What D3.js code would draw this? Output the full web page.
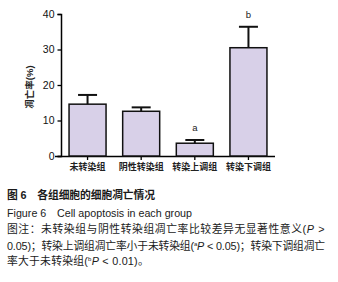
<!DOCTYPE html>
<html lang="zh">
<head>
    <meta charset="utf-8">
    <title>Figure 6</title>
    <script src="https://d3js.org/d3.v7.min.js"></script>
    <style type="text/css">
        body { margin: 0; background: #fff; }
        svg text { font-family: "Liberation Sans", Arial, "Noto Sans CJK SC", sans-serif; }
    </style>
</head>
<body>
<script type="text/javascript">

    // data
    var groups = ["未转染组", "阴性转染组", "转染上调组", "转染下调组"];
    var means = [14.6, 12.6, 3.6, 30.5];
    var errors = [2.6, 1.1, 0.9, 5.9];
    var marks = ["", "", "a", "b"];
    var yTicks = [0, 10, 20, 30, 40];

    var captionLines = [
        "图 6　各组细胞的细胞凋亡情况",
        "Figure 6　Cell apoptosis in each group",
        "图注：未转染组与阴性转染组凋亡率比较差异无显著性意义(<i>P</i> &gt;",
        "0.05)；转染上调组凋亡率小于未转染组(<sup>a</sup><i>P</i> &lt; 0.05)；转染下调组凋亡",
        "率大于未转染组(<sup>b</sup><i>P</i> &lt; 0.01)。"
    ];

    var w = 338, h = 282;

    var svg = d3.select("body")
        .append("svg")
        .attr("width", w)
        .attr("height", h);

    var x = d3.scaleBand()
        .domain(groups)
        .range([61, 275])
        .paddingInner(0.31)
        .paddingOuter(0.15);

    var y = d3.scaleLinear()
        .domain([0, 40])
        .range([156, 14]);

    // y axis
    var yAxis = svg.append("g")
        .attr("transform", "translate(61,0)")
        .call(d3.axisLeft(y).tickValues(yTicks).tickSize(3.5).tickPadding(3));
    yAxis.select(".domain").attr("stroke-width", 1.5);
    yAxis.selectAll(".tick line").attr("stroke-width", 1.3);
    yAxis.selectAll("text").attr("font-size", 10.5).attr("fill", "#111");

    // x axis
    var xAxis = svg.append("g")
        .attr("transform", "translate(0,156)")
        .call(d3.axisBottom(x).tickSize(4).tickPadding(4).tickSizeOuter(0));
    xAxis.select(".domain").attr("d", "M55,0.5H275").attr("stroke-width", 1.5);
    xAxis.selectAll(".tick line").attr("stroke-width", 1.3);
    xAxis.selectAll("text")
        .attr("font-size", 9)
        .attr("font-weight", "bold")
        .attr("fill", "#222")
        .attr("font-family", "'Noto Sans CJK SC', sans-serif");

    // y label
    svg.append("text")
        .attr("transform", "translate(33,87) rotate(-90)")
        .attr("text-anchor", "middle")
        .attr("font-size", 9.5)
        .attr("font-weight", "bold")
        .attr("fill", "#222")
        .attr("font-family", "'Noto Sans CJK SC', sans-serif")
        .text("凋亡率(%)");

    // error bars
    var capHalf = 9.5;
    var err = svg.selectAll("g.err")
        .data(groups)
        .enter()
        .append("g")
        .attr("class", "err");
    err.append("line")
        .attr("x1", function(d) { return x(d) + x.bandwidth() / 2; })
        .attr("x2", function(d) { return x(d) + x.bandwidth() / 2; })
        .attr("y1", function(d, i) { return y(means[i]); })
        .attr("y2", function(d, i) { return y(means[i] + errors[i]); })
        .attr("stroke", "#111")
        .attr("stroke-width", 2);
    err.append("line")
        .attr("x1", function(d) { return x(d) + x.bandwidth() / 2 - capHalf; })
        .attr("x2", function(d) { return x(d) + x.bandwidth() / 2 + capHalf; })
        .attr("y1", function(d, i) { return y(means[i] + errors[i]); })
        .attr("y2", function(d, i) { return y(means[i] + errors[i]); })
        .attr("stroke", "#111")
        .attr("stroke-width", 2);

    // bars
    svg.selectAll("rect.bar")
        .data(groups)
        .enter()
        .append("rect")
        .attr("class", "bar")
        .attr("x", function(d) { return x(d); })
        .attr("y", function(d, i) { return y(means[i]); })
        .attr("width", x.bandwidth())
        .attr("height", function(d, i) { return y(0) - y(means[i]); })
        .attr("fill", "#d8d0e8")
        .attr("stroke", "#111")
        .attr("stroke-width", 1.5);

    // significance letters
    svg.selectAll("text.mark")
        .data(groups)
        .enter()
        .append("text")
        .attr("class", "mark")
        .attr("x", function(d) { return x(d) + x.bandwidth() / 2; })
        .attr("y", function(d, i) { return y(means[i] + errors[i]) - 9; })
        .attr("text-anchor", "middle")
        .attr("font-size", 9.5)
        .attr("fill", "#222")
        .text(function(d, i) { return marks[i]; });

    // caption, each line stretched to the width it has in the picture
    var capMid = [195, 213, 229, 246, 261];
    var capEnd = [155, 192, 325, 325, 149];
    var cap = d3.select("body")
        .append("div")
        .style("position", "absolute")
        .style("left", "0px")
        .style("top", "0px");
    captionLines.forEach(function(line, i) {
        var div = cap.append("div")
            .style("position", "absolute")
            .style("left", "7px")
            .style("top", (capMid[i] - 7) + "px")
            .style("white-space", "nowrap")
            .style("font-family", "'Liberation Sans', Arial, 'Noto Sans CJK SC', sans-serif")
            .style("font-size", i === 1 ? "10.7px" : "10.8px")
            .style("line-height", "14px")
            .style("font-weight", i === 0 ? "bold" : "normal")
            .style("color", "#1a1a1a")
            .html(line);
        div.selectAll("sup").style("font-size", "6px").style("vertical-align", "4px").style("line-height", "0");
        var node = div.node();
        var n = node.textContent.length;
        var wNow = node.getBoundingClientRect().width;
        var ls = (capEnd[i] - 7 - wNow) / n;
        div.style("letter-spacing", ls + "px");
    });

</script>
</body>
</html>
